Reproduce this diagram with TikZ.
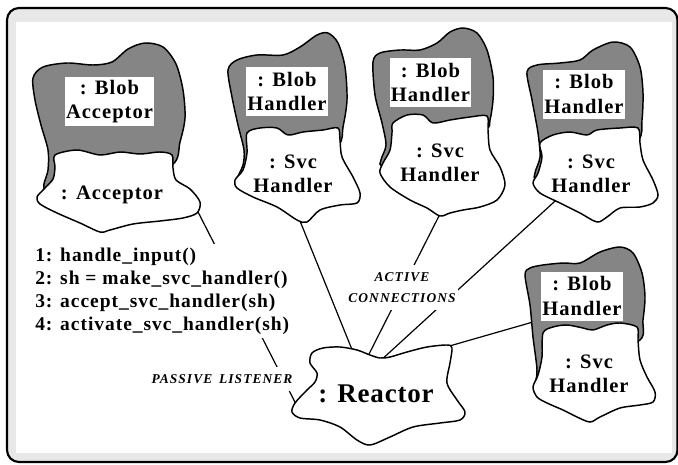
\documentclass[tikz,border=0pt]{standalone}
\usepackage{fontspec}
\newfontfamily\tnr[LetterSpace=5]{Liberation Serif}
\newfontfamily\tnrlbl[LetterSpace=8]{Liberation Serif}
\newfontfamily\tnrbig[LetterSpace=3]{Liberation Serif}
\definecolor{blobgray}{HTML}{858585}
\definecolor{framegray}{HTML}{E8E8E8}
\begin{document}
\begin{tikzpicture}[x=0.75pt,y=-0.75pt,
  grayblob/.style={fill=blobgray,draw=black,line width=1.1pt},
  whiteblob/.style={fill=white,draw=black,line width=1.1pt},
  conn/.style={draw=black,line width=0.9pt},
  bodyfont/.style={font=\tnr\bfseries\fontsize{15.4}{18.3}\selectfont},
  titlebox/.style={bodyfont,fill=white,inner xsep=1pt,inner ysep=0pt,minimum width=58.5pt,minimum height=36.75pt,align=center},
  svctext/.style={bodyfont,align=center,inner sep=0pt,anchor=north},
  listtext/.style={font=\tnr\bfseries\fontsize{14.6}{17.25}\selectfont,fill=white,align=left,inner xsep=2.25pt,inner ysep=3pt,anchor=north west},
  lbl/.style={font=\tnrlbl\bfseries\itshape\fontsize{10.1}{15.75}\selectfont,fill=white,align=center,inner xsep=2pt,inner ysep=5.5pt}
]
\useasboundingbox (0,0) rectangle (678,464);
\begin{scope}
  \clip (0,0) rectangle (678,464);
  \draw[fill=framegray,line width=1.6pt,rounded corners=9pt] (7,8) rectangle (677.5,462);
\end{scope}
\fill[white] (16,22) rectangle (672,453);

% connector end points
\coordinate (accout) at (195,206);
\coordinate (rw) at (299,410);
\coordinate (s1out) at (298,216);
\coordinate (r1) at (355,357);
\coordinate (s2out) at (442,210);
\coordinate (r2) at (366,360);
\coordinate (s3out) at (558,198.4);
\coordinate (r3) at (379,362);
\coordinate (b4out) at (533,322);
\coordinate (r4) at (446,347);

% connectors
\draw[conn] (accout) -- (rw);
\draw[conn] (s1out) -- (r1);
\draw[conn] (s2out) -- (r2);
\draw[conn] (s3out) -- (r3);
\draw[conn] (b4out) -- (r4);

% Blob Acceptor
\draw[grayblob] plot[smooth cycle,tension=0.5] coordinates {(33,78) (43,67) (67,63) (93,65) (112,62) (128,49) (145,43) (163,47) (176,64) (183,90) (185,118) (180,142) (172,165) (120,185) (60,195) (44,188) (48,170) (48,150) (41,125) (35,100)};
\draw[whiteblob] plot[smooth cycle,tension=0.5] coordinates {(55,155) (77,150) (100,155) (120,152) (140,154) (160,152) (172,155) (173,168) (176,180) (190,189) (200,202) (197,213) (183,218) (160,221) (133,224) (110,230) (100,232) (80,223) (57,213) (40,204) (37,197) (44,189) (53,179) (55,167)};

% Blob Handler 1
\draw[grayblob] plot[smooth cycle,tension=0.5] coordinates {(228,70) (237,60) (257,55) (283,55) (300,47) (317,35) (328,33) (338,43) (345,67) (347,100) (343,127) (338,145) (300,160) (245,185) (237,180) (243,165) (244,150) (238,125) (232,97)};
\draw[whiteblob] plot[smooth cycle,tension=0.5] coordinates {(247,133) (260,128) (277,128) (288,135) (303,132) (323,130) (338,128) (340,140) (342,157) (353,177) (360,193) (357,203) (340,205) (320,210) (307,222) (297,220) (277,207) (253,197) (237,188) (235,180) (243,170) (247,153)};

% Blob Handler 2
\draw[grayblob] plot[smooth cycle,tension=0.5] coordinates {(373,62) (380,53) (400,50) (420,50) (437,43) (450,32) (463,28) (477,33) (487,50) (493,77) (493,100) (490,120) (485,130) (440,150) (385,165) (381,160) (386,145) (382,123) (375,95)};
\draw[whiteblob] plot[smooth cycle,tension=0.5] coordinates {(393,123) (407,115) (423,115) (433,123) (450,120) (470,117) (487,116) (488,130) (490,150) (500,167) (505,185) (497,200) (480,207) (463,210) (450,213) (440,216) (427,208) (410,200) (390,187) (380,173) (383,163) (390,150) (392,133)};

% Blob Handler 3
\draw[grayblob] plot[smooth cycle,tension=0.5] coordinates {(527,72) (537,65) (560,63) (580,60) (593,50) (613,42) (630,47) (640,67) (643,93) (642,120) (638,140) (600,160) (540,178) (535,173) (540,157) (538,133) (532,100)};
\draw[whiteblob] plot[smooth cycle,tension=0.5] coordinates {(540,143) (553,135) (570,132) (587,135) (597,130) (620,128) (638,128) (640,143) (643,160) (653,180) (658,195) (653,203) (640,207) (620,208) (607,217) (597,222) (580,213) (560,203) (540,193) (533,183) (538,173) (542,157)};

% Blob Handler 4
\draw[grayblob] plot[smooth cycle,tension=0.5] coordinates {(525,275) (530,268) (543,265) (563,263) (580,263) (600,252) (620,247) (633,253) (642,273) (645,297) (643,320) (640,340) (600,355) (540,390) (535,388) (537,370) (533,337) (530,305)};
\draw[whiteblob] plot[smooth cycle,tension=0.5] coordinates {(543,333) (553,327) (567,325) (583,328) (593,330) (607,325) (620,323) (637,327) (638,340) (640,360) (647,377) (655,392) (653,402) (640,405) (620,408) (600,417) (590,422) (577,417) (563,410) (547,403) (537,397) (533,387) (538,375) (542,357)};

% Reactor
\draw[whiteblob] plot[smooth cycle,tension=0.5] coordinates {(312,353) (323,348) (340,347) (357,350) (370,355) (380,358) (390,357) (407,352) (427,347) (447,345) (452,348) (450,363) (447,383) (457,400) (465,412) (460,420) (440,423) (413,427) (390,437) (370,445) (357,440) (340,427) (320,420) (300,418) (292,412) (295,403) (307,390) (315,382) (317,373) (310,363)};

% titles
\node[titlebox] (blobacc) at (109.5,101.5) {: Blob\\Acceptor};
\node[titlebox] (blob1) at (287,91.5) {: Blob\\Handler};
\node[titlebox] (blob2) at (430.5,82.5) {: Blob\\Handler};
\node[titlebox] (blob3) at (584,94) {: Blob\\Handler};
\node[titlebox] (blob4) at (582,296) {: Blob\\Handler};

\node[bodyfont,inner sep=0pt,anchor=base] (acc) at (112,199) {: Acceptor};
\node[svctext] (svc1) at (293,154.5) {: Svc\\Handler};
\node[svctext] (svc2) at (440,143.5) {: Svc\\Handler};
\node[svctext] (svc3) at (591,154.5) {: Svc\\Handler};
\node[svctext] (svc4) at (589,354.5) {: Svc\\Handler};

\node[font=\tnrbig\bfseries\fontsize{20.25}{24}\selectfont,inner sep=0pt,anchor=base] (reactor) at (376,402) {: Reactor};

\node[listtext] (steps) at (32,243.5) {1: handle\_input()\\2: sh = make\_svc\_handler()\\3: accept\_svc\_handler(sh)\\4: activate\_svc\_handler(sh)};

\node[lbl,anchor=base] (passive) at (222,383) {PASSIVE\enspace LISTENER};
\node[lbl,anchor=north] (active) at (402,265) {ACTIVE\\CONNECTIONS};
\end{tikzpicture}
\end{document}
